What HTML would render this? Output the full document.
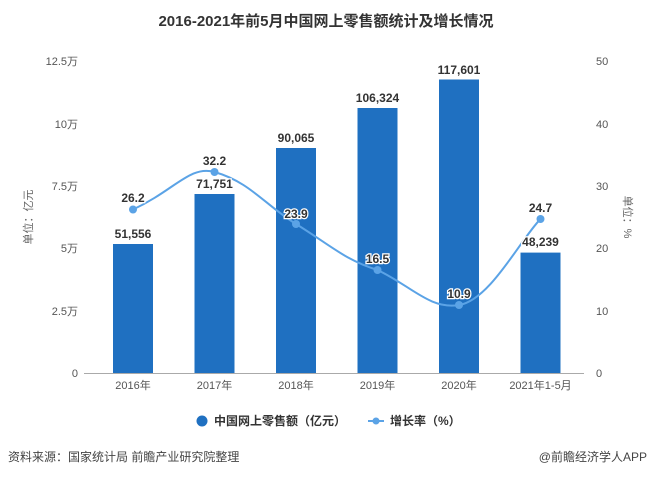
<!DOCTYPE html>
<html><head><meta charset="utf-8"><style>
body{margin:0;background:#fff;}
svg text{font-family:"Liberation Sans","Noto Sans CJK SC",sans-serif;}
</style></head><body>
<svg width="653" height="478" xmlns="http://www.w3.org/2000/svg">
<text x="326" y="26" text-anchor="middle" font-size="15" font-weight="bold" fill="#333">2016-2021年前5月中国网上零售额统计及增长情况</text>
<g font-size="11" fill="#555" text-anchor="end">
<text x="78" y="377">0</text><text x="78" y="315">2.5万</text><text x="78" y="252">5万</text><text x="78" y="190">7.5万</text><text x="78" y="128">10万</text><text x="78" y="65">12.5万</text>
</g>
<g font-size="11" fill="#555" text-anchor="start">
<text x="596" y="377">0</text><text x="596" y="315">10</text><text x="596" y="252">20</text><text x="596" y="190">30</text><text x="596" y="128">40</text><text x="596" y="65">50</text>
</g>
<text transform="translate(32,217) rotate(-90)" font-size="11" fill="#666" text-anchor="middle">单位：亿元</text>
<text transform="translate(624,217) rotate(90)" font-size="11" fill="#666" text-anchor="middle">单位：%</text>
<line x1="84" y1="373.5" x2="584" y2="373.5" stroke="#aaa"/>
<g fill="#1f70c1">
<rect x="113" y="244" width="40" height="129"/>
<rect x="194.5" y="194" width="40" height="179"/>
<rect x="276" y="148" width="40" height="225"/>
<rect x="357.5" y="108" width="40" height="265"/>
<rect x="439" y="79.5" width="40" height="293.5"/>
<rect x="520.5" y="252.6" width="40" height="120.4"/>
</g>
<g font-size="11" fill="#555" text-anchor="middle">
<text x="133" y="389">2016年</text><text x="214.5" y="389">2017年</text><text x="296" y="389">2018年</text><text x="377.5" y="389">2019年</text><text x="459" y="389">2020年</text><text x="540.5" y="389">2021年1-5月</text>
</g>
<path d="M133,209.5 C175,190 190,165 214.5,172 C250,182 265,205 296,224 C330,245 345,260 377.5,270 C410,285 430,310 459,305 C490,300 520,240 540.5,219" fill="none" stroke="#5ba3e6" stroke-width="2"/>
<g fill="#5ba3e6">
<circle cx="133" cy="209.5" r="4"/><circle cx="214.5" cy="172" r="4"/><circle cx="296" cy="224" r="4"/><circle cx="377.5" cy="270" r="4"/><circle cx="459" cy="305" r="4"/><circle cx="540.5" cy="219" r="4"/>
</g>
<g font-size="12" font-weight="bold" fill="#333" text-anchor="middle" stroke="#fff" stroke-width="2.5" paint-order="stroke">
<text x="133" y="238">51,556</text><text x="214.5" y="188">71,751</text><text x="296" y="142">90,065</text><text x="377.5" y="102">106,324</text><text x="459" y="74">117,601</text><text x="540.5" y="246">48,239</text>
<text x="133" y="202">26.2</text><text x="214.5" y="165">32.2</text><text x="296" y="218">23.9</text><text x="377.5" y="263">16.5</text><text x="459" y="298">10.9</text><text x="540.5" y="212">24.7</text>
</g>
<circle cx="202" cy="421" r="5.5" fill="#1f70c1"/>
<text x="214" y="425" font-size="12" font-weight="bold" fill="#333">中国网上零售额（亿元）</text>
<line x1="368" y1="421" x2="384" y2="421" stroke="#5ba3e6" stroke-width="2"/><circle cx="376" cy="421" r="3.5" fill="#5ba3e6"/>
<text x="390" y="425" font-size="12" font-weight="bold" fill="#333">增长率（%）</text>
<text x="8" y="461" font-size="12" fill="#444">资料来源：国家统计局 前瞻产业研究院整理</text>
<text x="647" y="461" font-size="12" fill="#444" text-anchor="end">@前瞻经济学人APP</text>
</svg>
</body></html>
